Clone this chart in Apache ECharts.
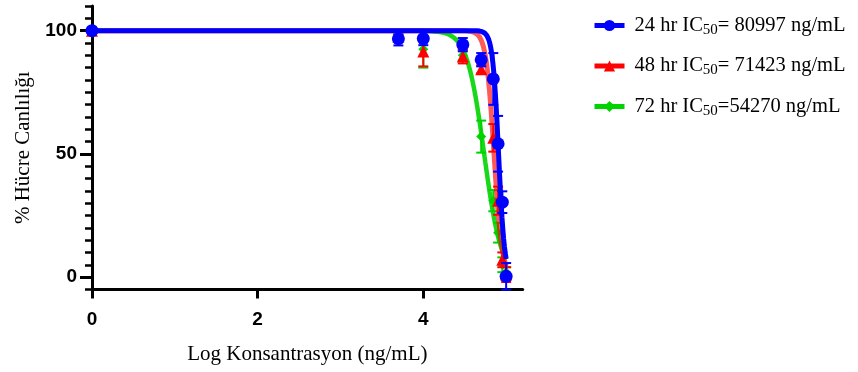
<!DOCTYPE html>
<html>
<head>
<meta charset="utf-8">
<script src="https://cdn.jsdelivr.net/npm/echarts@6/dist/echarts.min.js"></script>
<style>
  html, body { margin: 0; padding: 0; background: #fff; }
  #chart { width: 858px; height: 372px; }
</style>
</head>
<body>
<div id="chart"></div>
<script>
// Log10 concentrations (ng/mL); 0 is the untreated control
const logConc = [0, 3.699, 4, 4.477, 4.699, 4.845, 4.903, 4.954, 5];

// Mean % viability and error per time point
const viability24 = [100, 96.7, 96.8, 94.3, 88.2, 80.4, 54.1, 30.4, 0.3];
const error24     = [0, 2.7, 2.7, 2.7, 2.7, 10.5, 11.3, 4.4, 5.4];
const viability48 = [100, 97.5, 91.5, 89.5, 84.3, 56.5, 31, 7, 1];
const error48     = [0, 1, 6, 2.8, 1.6, 5.6, 5.7, 3, 3];
const viability72 = [100, 97.5, 92.5, 90, 57, 31, 18, 5, 2];
const error72     = [0, 1, 7.5, 2, 6.5, 4.3, 4, 3, 2];

// Sigmoidal dose-response fit parameters
const ic50      = [80997, 71423, 54270];
const hillSlope = [12, 9, 4.2];

const seriesNames  = ['24 hr', '48 hr', '72 hr'];
const legendPrefix = ['24 hr IC', '48 hr IC', '72 hr IC'];
const legendSuffix = ['= 80997 ng/mL', '= 71423 ng/mL', '=54270 ng/mL'];

const xTickValues = [0, 2, 4];
const yMajorTicks = [0, 50, 100];

const colors  = ['#0000ff', '#ff0000', '#00d400'];
const symbols = ['circle', 'triangle', 'diamond'];
const symbolSizes = [13, 12, 10];
const lineWidths  = [5, 5, 4.5];
const lineOpacity = [1, 0.65, 0.9];
const baseZ = [6, 4, 2];

// Fitted curve: 100 / (1 + 10^((x - logIC50) * slope)), sampled from 0 to 5
function fitCurve(k) {
  const logIc = Math.log10(ic50[k]);
  const pts = [];
  for (let i = 0; i <= 500; i++) {
    const x = i / 100;
    pts.push([x, 100 / (1 + Math.pow(10, (x - logIc) * hillSlope[k]))]);
  }
  return pts;
}

// Vertical error bar with caps, placed through the axis scales
function errorBars(k, values, errs, capW, lw, z) {
  return {
    type: 'custom',
    name: seriesNames[k],
    z: z,
    silent: true,
    data: logConc.map((x, i) => [x, values[i] - errs[i], values[i] + errs[i], errs[i]]),
    encode: { x: 0, y: [1, 2] },
    renderItem(params, api) {
      if (api.value(3) <= 0) return null;
      const x = api.value(0);
      const lo = api.coord([x, api.value(1)]);
      const hi = api.coord([x, api.value(2)]);
      const hw = capW / 2;
      const style = { stroke: colors[k], lineWidth: lw };
      return {
        type: 'group',
        children: [
          { type: 'line', shape: { x1: lo[0], y1: lo[1], x2: hi[0], y2: hi[1] }, style },
          { type: 'line', shape: { x1: lo[0] - hw, y1: lo[1], x2: lo[0] + hw, y2: lo[1] }, style },
          { type: 'line', shape: { x1: hi[0] - hw, y1: hi[1], x2: hi[0] + hw, y2: hi[1] }, style }
        ]
      };
    }
  };
}

const means = [viability24, viability48, viability72];
const errs  = [error24, error48, error72];

const series = [];
for (let k = 0; k < 3; k++) {
  series.push({
    type: 'line',
    name: seriesNames[k],
    data: fitCurve(k),
    showSymbol: false,
    symbol: symbols[k],
    z: baseZ[k],
    itemStyle: { color: colors[k] },
    lineStyle: { color: colors[k], width: lineWidths[k], opacity: lineOpacity[k] },
    silent: true
  });
}
for (let k = 0; k < 3; k++) {
  series.push(errorBars(k, means[k], errs[k], 10, 2, baseZ[k] + 1));
  series.push({
    type: 'scatter',
    name: seriesNames[k],
    data: logConc.map((x, i) => [x, means[k][i]]),
    symbol: symbols[k],
    symbolSize: symbolSizes[k],
    z: baseZ[k] + 1,
    itemStyle: { color: colors[k], opacity: 1 },
    silent: true
  });
}

const tickFont = { fontFamily: 'Liberation Sans', fontWeight: 'bold', fontSize: 19, color: '#000' };
const serif = 'Liberation Serif';

const chart = echarts.init(document.getElementById('chart'), null, { renderer: 'canvas' });
chart.setOption({
  animation: false,
  backgroundColor: '#fff',
  grid: { left: 92, top: 6, width: 430.7, height: 283.4, containLabel: false },
  legend: {
    data: seriesNames.map((n, k) => ({
      name: n,
      itemStyle: { color: colors[k] },
      lineStyle: { color: colors[k], width: 5, opacity: 1 }
    })),
    orient: 'vertical',
    left: 587,
    top: 10,
    itemWidth: 30,
    itemHeight: 14,
    itemGap: 18,
    selectedMode: false,
    formatter(name) {
      const k = seriesNames.indexOf(name);
      return '{a|' + legendPrefix[k] + '}{s|50}{a|' + legendSuffix[k] + '}';
    },
    textStyle: {
      padding: [0, 0, 0, 5],
      rich: {
        a: { fontFamily: serif, fontSize: 20.5, color: '#000', lineHeight: 24 },
        s: { fontFamily: serif, fontSize: 15, color: '#000', lineHeight: 14, verticalAlign: 'bottom' }
      }
    }
  },
  xAxis: {
    type: 'value',
    min: 0,
    max: 5.2,
    interval: 2,
    axisLine: { onZero: false, lineStyle: { color: '#000', width: 3 } },
    axisTick: { customValues: xTickValues, length: 9, lineStyle: { color: '#000', width: 3 } },
    axisLabel: Object.assign({ customValues: xTickValues, margin: 21 }, tickFont),
    splitLine: { show: false },
    name: 'Log Konsantrasyon (ng/mL)',
    nameLocation: 'middle',
    nameGap: 55,
    nameTextStyle: { fontFamily: serif, fontSize: 21, color: '#000' }
  },
  yAxis: [
    {
      type: 'value',
      min: -5,
      max: 110,
      interval: 5,
      axisLine: { show: true, onZero: false, lineStyle: { color: '#000', width: 3 } },
      axisTick: { length: 7, lineStyle: { color: '#000', width: 2.5 } },
      axisLabel: Object.assign({ customValues: yMajorTicks, margin: 15 }, tickFont),
      splitLine: { show: false },
      name: '% Hücre Canlılığı',
      nameLocation: 'middle',
      nameRotate: 90,
      nameGap: 58,
      nameTextStyle: { fontFamily: serif, fontSize: 21, color: '#000' }
    },
    {
      type: 'value',
      min: -5,
      max: 110,
      position: 'left',
      axisLine: { show: false },
      axisTick: { customValues: yMajorTicks, length: 12, lineStyle: { color: '#000', width: 3 } },
      axisLabel: { show: false },
      splitLine: { show: false }
    }
  ],
  series: series
});
</script>
</body>
</html>
